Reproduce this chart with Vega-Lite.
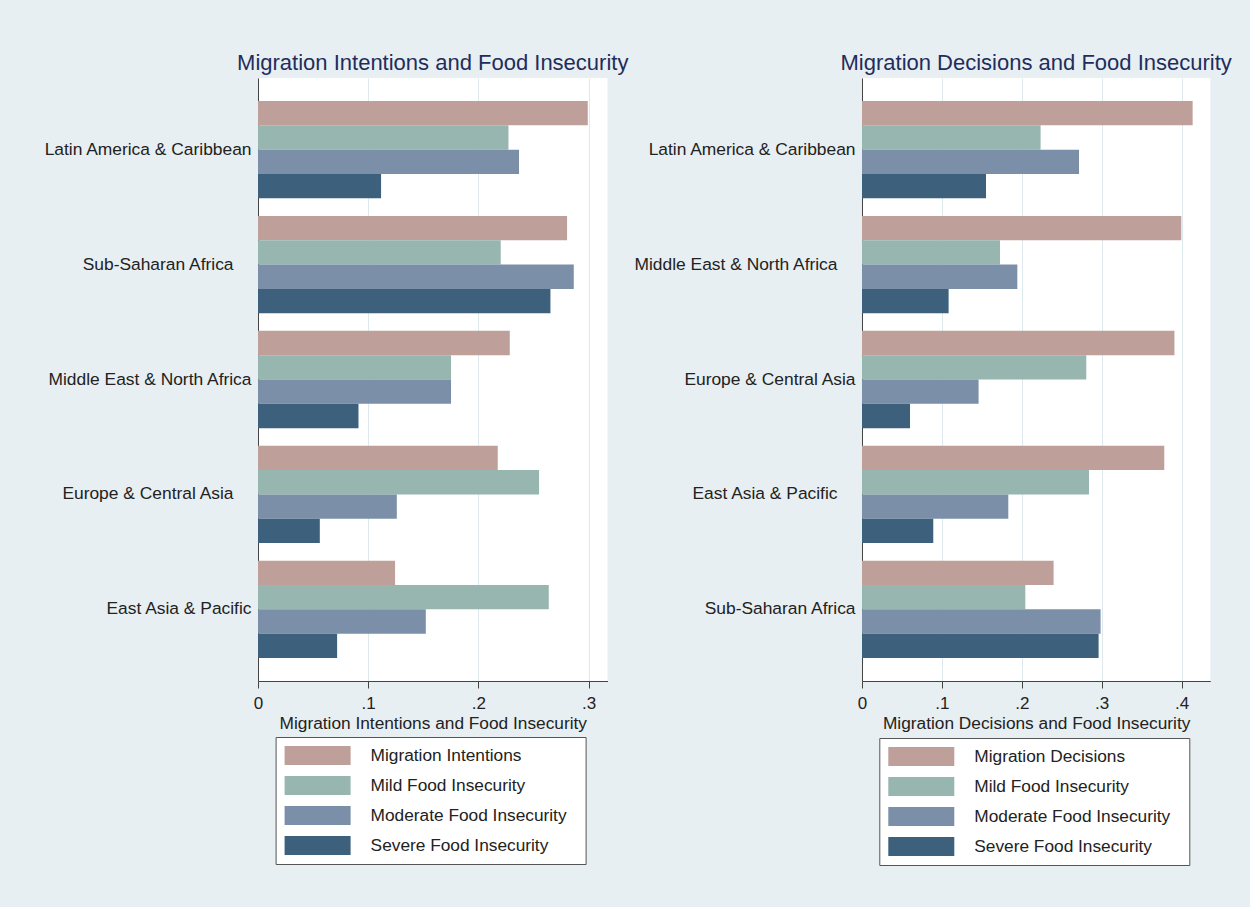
{
  "$schema": "https://vega.github.io/schema/vega-lite/v6.json",
  "background": "#e8eff2",
  "padding": {"left": 43, "top": 52, "right": 18, "bottom": 45},
  "datasets": {
    "intentions": [
      {"region": "Latin America & Caribbean", "series": "Migration Intentions", "value": 0.2993},
      {"region": "Latin America & Caribbean", "series": "Mild Food Insecurity", "value": 0.2273},
      {"region": "Latin America & Caribbean", "series": "Moderate Food Insecurity", "value": 0.2369},
      {"region": "Latin America & Caribbean", "series": "Severe Food Insecurity", "value": 0.1117},
      {"region": "Sub-Saharan Africa", "series": "Migration Intentions", "value": 0.2805},
      {"region": "Sub-Saharan Africa", "series": "Mild Food Insecurity", "value": 0.2203},
      {"region": "Sub-Saharan Africa", "series": "Moderate Food Insecurity", "value": 0.2866},
      {"region": "Sub-Saharan Africa", "series": "Severe Food Insecurity", "value": 0.2654},
      {"region": "Middle East & North Africa", "series": "Migration Intentions", "value": 0.2285},
      {"region": "Middle East & North Africa", "series": "Mild Food Insecurity", "value": 0.1752},
      {"region": "Middle East & North Africa", "series": "Moderate Food Insecurity", "value": 0.1752},
      {"region": "Middle East & North Africa", "series": "Severe Food Insecurity", "value": 0.0912},
      {"region": "Europe & Central Asia", "series": "Migration Intentions", "value": 0.2176},
      {"region": "Europe & Central Asia", "series": "Mild Food Insecurity", "value": 0.2551},
      {"region": "Europe & Central Asia", "series": "Moderate Food Insecurity", "value": 0.126},
      {"region": "Europe & Central Asia", "series": "Severe Food Insecurity", "value": 0.0561},
      {"region": "East Asia & Pacific", "series": "Migration Intentions", "value": 0.1244},
      {"region": "East Asia & Pacific", "series": "Mild Food Insecurity", "value": 0.2639},
      {"region": "East Asia & Pacific", "series": "Moderate Food Insecurity", "value": 0.1523},
      {"region": "East Asia & Pacific", "series": "Severe Food Insecurity", "value": 0.0718}
    ],
    "decisions": [
      {"region": "Latin America & Caribbean", "series": "Migration Decisions", "value": 0.4138},
      {"region": "Latin America & Caribbean", "series": "Mild Food Insecurity", "value": 0.2235},
      {"region": "Latin America & Caribbean", "series": "Moderate Food Insecurity", "value": 0.2716},
      {"region": "Latin America & Caribbean", "series": "Severe Food Insecurity", "value": 0.1552},
      {"region": "Middle East & North Africa", "series": "Migration Decisions", "value": 0.3996},
      {"region": "Middle East & North Africa", "series": "Mild Food Insecurity", "value": 0.1727},
      {"region": "Middle East & North Africa", "series": "Moderate Food Insecurity", "value": 0.1944},
      {"region": "Middle East & North Africa", "series": "Severe Food Insecurity", "value": 0.1084},
      {"region": "Europe & Central Asia", "series": "Migration Decisions", "value": 0.391},
      {"region": "Europe & Central Asia", "series": "Mild Food Insecurity", "value": 0.2807},
      {"region": "Europe & Central Asia", "series": "Moderate Food Insecurity", "value": 0.1459},
      {"region": "Europe & Central Asia", "series": "Severe Food Insecurity", "value": 0.0601},
      {"region": "East Asia & Pacific", "series": "Migration Decisions", "value": 0.3783},
      {"region": "East Asia & Pacific", "series": "Mild Food Insecurity", "value": 0.2841},
      {"region": "East Asia & Pacific", "series": "Moderate Food Insecurity", "value": 0.1831},
      {"region": "East Asia & Pacific", "series": "Severe Food Insecurity", "value": 0.0892},
      {"region": "Sub-Saharan Africa", "series": "Migration Decisions", "value": 0.2398},
      {"region": "Sub-Saharan Africa", "series": "Mild Food Insecurity", "value": 0.2044},
      {"region": "Sub-Saharan Africa", "series": "Moderate Food Insecurity", "value": 0.2986},
      {"region": "Sub-Saharan Africa", "series": "Severe Food Insecurity", "value": 0.2961}
    ]
  },
  "config": {
    "font": "Liberation Sans",
    "view": {"stroke": null, "fill": "white"},
    "title": {"fontSize": 22, "fontWeight": "normal", "color": "#1f2d5c", "anchor": "middle", "baseline": "alphabetic", "offset": 3, "font": "Liberation Sans"},
    "axisX": {
      "grid": true, "gridColor": "#dde9ec", "gridWidth": 1,
      "domainColor": "#444", "tickColor": "#444", "tickSize": 7,
      "labelFontSize": 17, "labelColor": "#222", "labelPadding": 7, "labelFlush": false,
      "titleFontSize": 17.3, "titleFontWeight": "normal", "titleColor": "#222", "titlePadding": 3,
      "labelExpr": "datum.value == 0 ? '0' : replace(format(datum.value, '.1f'), '0.', '.')"
    },
    "axisY": {
      "grid": false, "ticks": false, "domainColor": "#444",
      "labelFontSize": 17.4, "labelColor": "#222", "labelLimit": 400,
      "title": null
    },
    "legend": {
      "title": null, "orient": "none", "direction": "vertical",
      "strokeColor": "#555", "fillColor": "white", "padding": 9, "cornerRadius": 0,
      "symbolType": "M-3.474,-1H3.474V1H-3.474Z", "symbolSize": 361, "symbolStrokeWidth": 0,
      "symbolOffset": 23.5,
      "labelFontSize": 17.3, "labelOffset": 43.5, "rowPadding": 11, "labelColor": "#222", "labelLimit": 400
    }
  },
  "bounds": "flush",
  "spacing": 254,
  "resolve": {
    "scale": {"color": "independent", "x": "independent", "y": "independent", "yOffset": "independent"},
    "legend": {"color": "independent"}
  },
  "hconcat": [
    {
      "data": {"name": "intentions"},
      "width": 349.5,
      "height": 603,
      "title": "Migration Intentions and Food Insecurity",
      "mark": {"type": "bar"},
      "encoding": {
        "y": {
          "field": "region", "type": "nominal",
          "sort": ["Latin America & Caribbean", "Sub-Saharan Africa", "Middle East & North Africa", "Europe & Central Asia", "East Asia & Pacific"],
          "scale": {"paddingInner": 0.1526, "paddingOuter": 0.2},
          "axis": {"labelPadding": {"condition": {"test": "indexof(['Sub-Saharan Africa','Europe & Central Asia'], datum.value) >= 0", "value": 25}, "value": 7}}
        },
        "yOffset": {
          "field": "series", "type": "nominal",
          "sort": ["Migration Intentions", "Mild Food Insecurity", "Moderate Food Insecurity", "Severe Food Insecurity"]
        },
        "x": {
          "field": "value", "type": "quantitative",
          "scale": {"domain": [0, 0.3172], "nice": false},
          "axis": {"title": "Migration Intentions and Food Insecurity", "values": [0, 0.1, 0.2, 0.3]}
        },
        "color": {
          "field": "series", "type": "nominal",
          "scale": {
            "domain": ["Migration Intentions", "Mild Food Insecurity", "Moderate Food Insecurity", "Severe Food Insecurity"],
            "range": ["#bf9f99", "#97b6af", "#7b90a8", "#3d617c"]
          },
          "legend": {"legendX": 17.6, "legendY": 659, "labelExpr": "datum.label + '\u00a0\u00a0\u200b'"}
        }
      }
    },
    {
      "data": {"name": "decisions"},
      "width": 348.3,
      "height": 603,
      "title": "Migration Decisions and Food Insecurity",
      "mark": {"type": "bar"},
      "encoding": {
        "y": {
          "field": "region", "type": "nominal",
          "sort": ["Latin America & Caribbean", "Middle East & North Africa", "Europe & Central Asia", "East Asia & Pacific", "Sub-Saharan Africa"],
          "scale": {"paddingInner": 0.1526, "paddingOuter": 0.2},
          "axis": {"labelPadding": {"condition": {"test": "indexof(['Middle East & North Africa','East Asia & Pacific'], datum.value) >= 0", "value": 25}, "value": 7}}
        },
        "yOffset": {
          "field": "series", "type": "nominal",
          "sort": ["Migration Decisions", "Mild Food Insecurity", "Moderate Food Insecurity", "Severe Food Insecurity"]
        },
        "x": {
          "field": "value", "type": "quantitative",
          "scale": {"domain": [0, 0.4359], "nice": false},
          "axis": {"title": "Migration Decisions and Food Insecurity", "values": [0, 0.1, 0.2, 0.3, 0.4]}
        },
        "color": {
          "field": "series", "type": "nominal",
          "scale": {
            "domain": ["Migration Decisions", "Mild Food Insecurity", "Moderate Food Insecurity", "Severe Food Insecurity"],
            "range": ["#bf9f99", "#97b6af", "#7b90a8", "#3d617c"]
          },
          "legend": {"legendX": 17.3, "legendY": 660, "labelExpr": "datum.label + '\u00a0\u00a0\u200b'"}
        }
      }
    }
  ]
}
